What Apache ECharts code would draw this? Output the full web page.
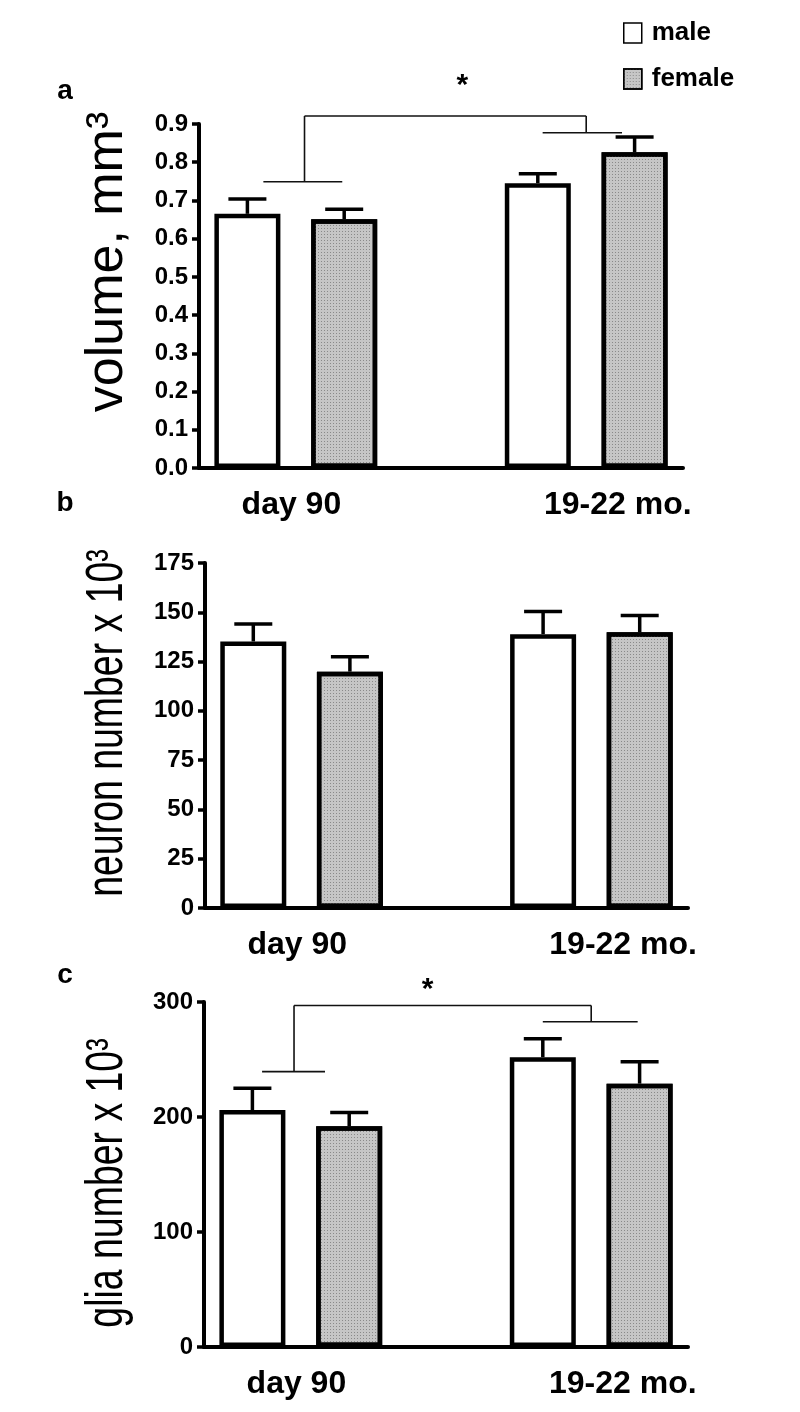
<!DOCTYPE html>
<html><head><meta charset="utf-8">
<script src="https://cdn.jsdelivr.net/npm/echarts@6/dist/echarts.min.js"></script>
<style>html,body{margin:0;padding:0;background:#fff}#c{width:800px;height:1412px}</style>
</head><body><div id="c"></div>
<script>
// ---------- data ----------
const groups = ['day 90', '19-22 mo.'];
const sexes = ['male', 'female'];
// panel a: volume, mm3
const volumeMale = [0.665, 0.745];
const volumeMaleErr = [0.039, 0.025];
const volumeFemale = [0.651, 0.826];
const volumeFemaleErr = [0.026, 0.040];
// panel b: neuron number x 10^3
const neuronMale = [135.2, 138.9];
const neuronMaleErr = [8.8, 11.5];
const neuronFemale = [119.9, 139.9];
const neuronFemaleErr = [7.6, 8.5];
// panel c: glia number x 10^3
const gliaMale = [206, 252];
const gliaMaleErr = [19, 16];
const gliaFemale = [192, 229];
const gliaFemaleErr = [12, 19];
// y-axis ticks: [min, max, interval]
const volumeTicks = [0, 0.9, 0.1];
const neuronTicks = [0, 175, 25];
const gliaTicks = [0, 300, 100];
// significance bracket levels: [left group line, right group line, top line, star]
const volumeSig = [0.749, 0.877, 0.921, 1.0];
const gliaSig = [239.5, 282.8, 297, 311];
const panelLetters = ['a', 'b', 'c'];
const axisNames = ['volume, mm\u00B3', 'neuron number x 10\u00B3', 'glia number x 10\u00B3'];

// ---------- helpers ----------
const FF = '"Liberation Sans", Arial, Helvetica, sans-serif';
const slotKeys = ['m0', 'f0', 'gap', 'm1', 'f1']; // male / female slots per group, with a spacer
const maleSlots = [0, 3], femaleSlots = [1, 4];

function slotData(vals, slots) {
  const d = ['-', '-', '-', '-', '-'];
  vals.forEach((v, i) => { d[slots[i]] = v; });
  return d;
}
function errData(m, me, f, fe) {
  return [
    [maleSlots[0], m[0], me[0]], [maleSlots[1], m[1], me[1]],
    [femaleSlots[0], f[0], fe[0]], [femaleSlots[1], f[1], fe[1]]
  ];
}
function renderErr(params, api) {
  const s = api.value(0), m = api.value(1), e = api.value(2);
  const p0 = api.coord([s, m]);
  const p1 = api.coord([s, m + e]);
  const hw = 19;
  return { type: 'group', children: [
    { type: 'line', shape: { x1: p0[0], y1: p0[1], x2: p1[0], y2: p1[1] }, style: { stroke: '#000', lineWidth: 3.5 } },
    { type: 'line', shape: { x1: p1[0] - hw, y1: p1[1], x2: p1[0] + hw, y2: p1[1] }, style: { stroke: '#000', lineWidth: 3.5 } }
  ]};
}
// bracket geometry in slot units, measured from the start of the x axis
function makeSig(g) {
  return function (params, api) {
    const L = api.value(1), R = api.value(2), T = api.value(3), S = api.value(4);
    const X = (s, v) => { const a = api.coord([0, v]), b = api.coord([1, v]); const u = b[0] - a[0]; return [a[0] + (s - 0.5) * u, a[1]]; };
    const ln = (p, q) => ({ type: 'line', shape: { x1: p[0], y1: p[1], x2: q[0], y2: q[1] }, style: { stroke: '#111', lineWidth: 1.6 } });
    const star = X(g.star, S);
    return { type: 'group', children: [
      ln(X(g.left[0], L), X(g.left[1], L)),
      ln(X(g.leftV, L), X(g.leftV, T)),
      ln(X(g.leftV, T), X(g.rightV, T)),
      ln(X(g.rightV, T), X(g.rightV, R)),
      ln(X(g.right[0], R), X(g.right[1], R)),
      { type: 'text', x: star[0], y: star[1], style: { text: '*', font: 'bold 30px ' + FF, fill: '#000', align: 'center', verticalAlign: 'middle', textAlign: 'center', textVerticalAlign: 'middle' } }
    ]};
  };
}

const grids = [
  { left: 199, width: 484, top: 124, height: 344 },
  { left: 205, width: 483, top: 563, height: 345 },
  { left: 204, width: 484, top: 1002, height: 345 }
];
const ticks = [volumeTicks, neuronTicks, gliaTicks];
const panels = [
  [volumeMale, volumeMaleErr, volumeFemale, volumeFemaleErr],
  [neuronMale, neuronMaleErr, neuronFemale, neuronFemaleErr],
  [gliaMale, gliaMaleErr, gliaFemale, gliaFemaleErr]
];

const xAxis = grids.map((g, i) => ({
  gridIndex: i, type: 'category', data: slotKeys,
  axisLine: { lineStyle: { color: '#000', width: 4 } },
  axisTick: { show: false },
  axisLabel: {
    interval: 0, align: 'center', margin: 21,
    formatter: (v, idx) => idx === maleSlots[0] ? '{g0|' + groups[0] + '}' : (idx === maleSlots[1] ? '{g1|' + groups[1] + '}' : ''),
    fontFamily: FF, fontWeight: 'bold', fontSize: 32, color: '#000',
    rich: {
      g0: { fontFamily: FF, fontWeight: 'bold', fontSize: 32, color: '#000', padding: [0, 0, 0, 88] },
      g1: { fontFamily: FF, fontWeight: 'bold', fontSize: 32, color: '#000', padding: [0, 0, 0, 160] }
    }
  }
}));
const yAxis = ticks.map((t, i) => ({
  gridIndex: i, type: 'value', min: t[0], max: t[1], interval: t[2],
  axisLine: { show: true, lineStyle: { color: '#000', width: 4 } },
  axisTick: { show: true, length: 7, lineStyle: { color: '#000', width: 3.5 } },
  splitLine: { show: false },
  axisLabel: {
    margin: 11, fontFamily: FF, fontWeight: 'bold', fontSize: 24, color: '#000',
    formatter: i === 0 ? (v => v.toFixed(1)) : (v => String(v))
  }
}));

const maleStyle = { color: '#ffffff', borderColor: '#000', borderWidth: 4.5 };
const femaleStyle = {
  color: '#c6c6c6', borderColor: '#000', borderWidth: 4.5,
  decal: { symbol: 'rect', symbolSize: 1, dashArrayX: [1, 2], dashArrayY: [1, 2], color: '#8a8a8a', rotation: 0 }
};

const series = [];
panels.forEach((p, i) => {
  series.push({ name: sexes[0], type: 'bar', xAxisIndex: i, yAxisIndex: i, data: slotData(p[0], maleSlots),
    barWidth: 66, barGap: '-100%', itemStyle: maleStyle, z: 3, animation: false });
  series.push({ name: sexes[1], type: 'bar', xAxisIndex: i, yAxisIndex: i, data: slotData(p[2], femaleSlots),
    barWidth: 66, barGap: '-100%', itemStyle: femaleStyle, z: 3, animation: false });
  series.push({ name: 'err' + i, type: 'custom', xAxisIndex: i, yAxisIndex: i, data: errData(p[0], p[1], p[2], p[3]),
    encode: { x: 0, y: [1, 2] }, renderItem: renderErr, z: 2, animation: false });
});
series.push({ name: 'sigA', type: 'custom', xAxisIndex: 0, yAxisIndex: 0, data: [[0].concat(volumeSig)],
  encode: { x: 0, y: [1, 2, 3, 4] }, clip: false, z: 4, animation: false,
  renderItem: makeSig({ left: [0.665, 1.48], leftV: 1.09, right: [3.55, 4.37], rightV: 4.0, star: 2.72 }) });
series.push({ name: 'sigC', type: 'custom', xAxisIndex: 2, yAxisIndex: 2, data: [[0].concat(gliaSig)],
  encode: { x: 0, y: [1, 2, 3, 4] }, clip: false, z: 4, animation: false,
  renderItem: makeSig({ left: [0.60, 1.25], leftV: 0.93, right: [3.5, 4.48], rightV: 4.0, star: 2.31 }) });

const txt = (t, x, y, font, extra) => Object.assign({ type: 'text', x: x, y: y, silent: true,
  style: { text: t, font: font, fill: '#000', align: 'center', verticalAlign: 'middle', textAlign: 'center', textVerticalAlign: 'middle' } }, extra || {});

const graphic = [
  txt(panelLetters[0], 65, 91, 'bold 28px ' + FF),
  txt(panelLetters[1], 65, 503, 'bold 28px ' + FF),
  txt(panelLetters[2], 65, 975, 'bold 28px ' + FF),
  txt(axisNames[0], 108, 262, '52px ' + FF, { rotation: Math.PI / 2 }),
  txt(axisNames[1], 108, 723, '52px ' + FF, { rotation: Math.PI / 2, scaleX: 0.72 }),
  txt(axisNames[2], 108, 1183, '52px ' + FF, { rotation: Math.PI / 2, scaleX: 0.72 })
];

const chart = echarts.init(document.getElementById('c'), null, { renderer: 'canvas' });
chart.setOption({
  backgroundColor: '#ffffff',
  animation: false,
  grid: grids,
  xAxis: xAxis,
  yAxis: yAxis,
  legend: {
    data: sexes, orient: 'vertical', left: 618, top: 15, itemWidth: 18, itemHeight: 20, itemGap: 20,
    icon: 'rect', selectedMode: false,
    itemStyle: { borderWidth: 1.5, borderColor: '#000' },
    textStyle: { fontFamily: FF, fontWeight: 'bold', fontSize: 26, color: '#000', lineHeight: 20, padding: [0, 0, 0, 5] }
  },
  graphic: graphic,
  series: series
});
</script>
</body></html>
